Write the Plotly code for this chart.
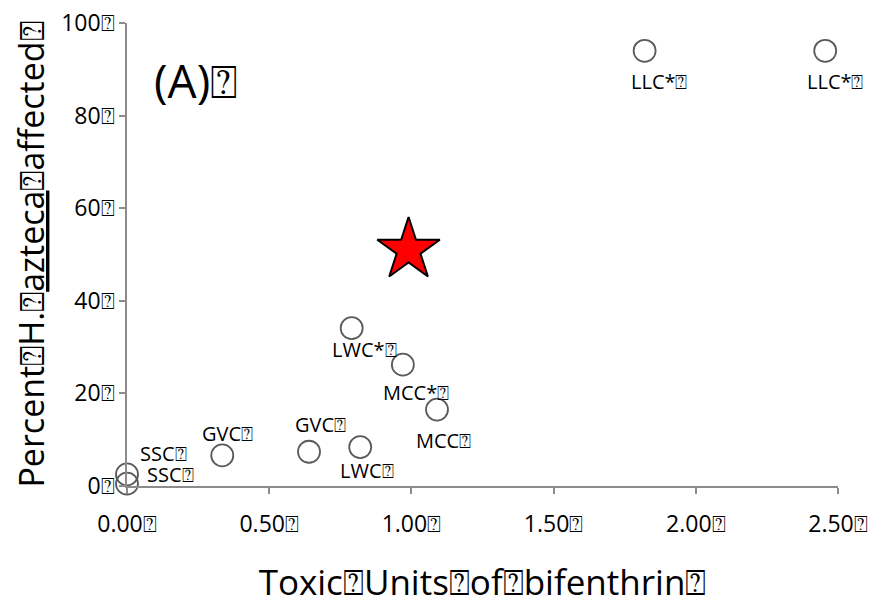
import plotly.graph_objects as go

BOX = "\u2370"

# data
toxic_units = [0.00, 0.00, 0.335, 0.64, 0.82, 1.09, 0.97, 0.79, 1.82, 2.455]
pct_affected = [2.5, 0.5, 6.6, 7.4, 8.4, 16.5, 26.2, 34.1, 94.0, 94.0]
site_labels = ["SSC", "SSC", "GVC", "GVC", "LWC", "MCC", "MCC*", "LWC*", "LLC*", "LLC*"]
star_x = [0.99]
star_y = [51.0]
x_ticks = [0, 0.5, 1.0, 1.5, 2.0, 2.5]
x_tick_text = ["0.00", "0.50", "1.00", "1.50", "2.00", "2.50"]
y_ticks = [0, 20, 40, 60, 80, 100]
y_tick_text = ["0", "20", "40", "60", "80", "100"]

# label pixel offsets (style)
label_shift = [(36, 21), (43, 9), (5, 22), (11, 27), (7, -23), (6, -31),
               (13, -28), (13, -21), (15, -31), (10, -31)]

FONT = "Open Sans"

fig = go.Figure()
fig.add_trace(go.Scatter(
    x=toxic_units, y=pct_affected, mode="markers",
    marker=dict(symbol="circle-open", size=22, color="#5a5a5a", line=dict(width=1.8)),
    cliponaxis=False, showlegend=False, hoverinfo="skip"))
fig.add_trace(go.Scatter(
    x=star_x, y=star_y, mode="markers",
    marker=dict(symbol="star", size=47, color="#ff0000", line=dict(color="black", width=2)),
    cliponaxis=False, showlegend=False))

for x, y, t, (dx, dy) in zip(toxic_units, pct_affected, site_labels, label_shift):
    fig.add_annotation(x=x, y=y, text=t + BOX, showarrow=False, xshift=dx, yshift=dy,
                       font=dict(size=20, color="black", family=FONT))

fig.add_annotation(xref="paper", yref="paper", x=0.035, y=0.877, text="(A)" + BOX,
                   showarrow=False, xanchor="left", yanchor="middle",
                   font=dict(size=46, color="black", family=FONT))

axis_common = dict(showgrid=False, zeroline=False, showline=True, linecolor="#8c8c8c",
                   linewidth=1.5, ticks="outside", ticklen=6, tickcolor="#8c8c8c", tickwidth=1.5,
                   tickfont=dict(size=23, color="black", family=FONT), automargin=False,
                   ticklabeloverflow="allow")

fig.update_xaxes(range=[0, 2.5], tickvals=x_ticks, ticktext=[t + BOX for t in x_tick_text],
                 ticklabelstandoff=11,
                 title=dict(text="Toxic" + BOX + "Units" + BOX + "of" + BOX + "bifenthrin" + BOX,
                            font=dict(size=35, color="black", family=FONT), standoff=36),
                 **axis_common)
fig.update_yaxes(range=[0, 100], tickvals=y_ticks, ticktext=[t + BOX for t in y_tick_text],
                 ticklabelstandoff=0,
                 title=dict(text="Percent" + BOX + "H." + BOX + "<u>azteca</u>" + BOX + "affected" + BOX,
                            font=dict(size=34, color="black", family=FONT), standoff=10),
                 **axis_common)

fig.update_layout(width=873, height=597, plot_bgcolor="white", paper_bgcolor="white",
                  margin=dict(l=119, r=43, t=15, b=119), font=dict(family=FONT))

fig.write_html("out.html")
